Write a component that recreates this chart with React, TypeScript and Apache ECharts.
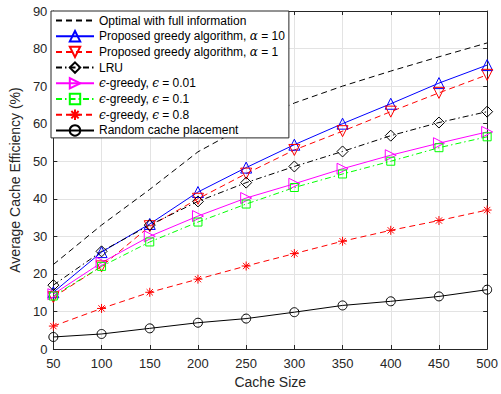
import React, { useEffect, useRef } from "react";
import * as echarts from "echarts";

const cacheSizes = [50, 100, 150, 200, 250, 300, 350, 400, 450, 500];
const optimal = [22.5, 33, 42.5, 52.5, 59.5, 65.5, 70, 74, 77.8, 81.5];
const greedyA10 = [15.1, 25.8, 33.3, 41.8, 48.3, 54.4, 60, 65.3, 70.8, 75.6];
const greedyA1 = [13.8, 22, 32.7, 40, 46.7, 53, 58, 63.2, 68.2, 73];
const lru = [17, 26, 33, 39.3, 44.3, 48.6, 52.6, 56.8, 60.3, 63.2];
const eps001 = [14.6, 23, 30, 35.4, 40.2, 44, 48, 51.6, 54.8, 57.8];
const eps01 = [14.1, 22, 28.5, 33.8, 38.6, 43, 46.6, 50, 53.6, 56.5];
const eps08 = [6.1, 10.8, 15.1, 18.6, 22.1, 25.4, 28.7, 31.6, 34.2, 37];
const randomPlacement = [3.2, 4, 5.5, 7, 8.1, 9.8, 11.6, 12.7, 14, 15.8];

const xTicks = { min: 50, max: 500, interval: 50 };
const yTicks = { min: 0, max: 90, interval: 10 };

const seriesNames = [
  "Optimal with full information",
  "Proposed greedy algorithm, α = 10",
  "Proposed greedy algorithm, α = 1",
  "LRU",
  "ϵ-greedy, ϵ = 0.01",
  "ϵ-greedy, ϵ = 0.1",
  "ϵ-greedy, ϵ = 0.8",
  "Random cache placement",
];

const ASTERISK = "path://M5,0L5,10M0,5L10,5M1.5,1.5L8.5,8.5M1.5,8.5L8.5,1.5";

export default function App() {
  const ref = useRef<HTMLDivElement>(null);
  useEffect(() => {
    if (!ref.current) return;
    const chart = echarts.init(ref.current, null, { renderer: "svg" });
    const dash = [6, 4];
    const dashDot = [6, 3, 1.5, 3];
    const mk = (
      name: string,
      data: number[],
      color: string,
      lineType: any,
      symbol: string,
      symbolSize: number,
      rotate = 0
    ) => ({
      name,
      type: "line",
      data: cacheSizes.map((x, i) => [x, data[i]]),
      symbol,
      symbolSize,
      symbolRotate: rotate,
      showSymbol: symbol !== "none",
      lineStyle: { color, width: 1, type: lineType },
      itemStyle: {
        color: "transparent",
        borderColor: symbol === "none" ? "transparent" : color,
        borderWidth: symbol === "none" ? 0 : 1,
      },
      color,
      emphasis: { disabled: true },
    });
    const series = [
      mk(seriesNames[0], optimal, "#000000", dash, "none", 0),
      mk(seriesNames[1], greedyA10, "#0000ff", "solid", "triangle", 11),
      mk(seriesNames[2], greedyA1, "#ff0000", dash, "triangle", 11, 180),
      mk(seriesNames[3], lru, "#000000", dashDot, "diamond", 11),
      mk(seriesNames[4], eps001, "#ff00ff", "solid", "triangle", 11, -90),
      mk(seriesNames[5], eps01, "#00ff00", dashDot, "rect", 8),
      mk(seriesNames[6], eps08, "#ff0000", dash, ASTERISK, 9),
      mk(seriesNames[7], randomPlacement, "#000000", "solid", "circle", 9),
    ];
    const axisColor = "#262626";
    const font = "Liberation Sans, Arial, sans-serif";
    chart.setOption({
      animation: false,
      textStyle: { fontFamily: font, color: axisColor },
      grid: { left: 50, right: 11, top: 11, bottom: 44, containLabel: false },
      legend: {
        orient: "vertical",
        left: 51,
        top: 11,
        backgroundColor: "#ffffff",
        borderColor: axisColor,
        borderWidth: 1,
        borderRadius: 0,
        padding: [3, 4, 1, 4],
        itemWidth: 38,
        itemHeight: 13,
        itemGap: 2.7,
        data: seriesNames,
        textStyle: {
          fontFamily: font,
          fontSize: 12,
          color: "#000000",
          lineHeight: 13,
          rich: {
            g: {
              fontFamily: "DejaVu Serif, serif",
              fontStyle: "italic",
              fontSize: 12,
              color: "#000000",
            },
          },
        },
        formatter: (name: string) => name.replace(/([αϵ])/g, "{g|$1}"),
      },
      xAxis: [
        {
          type: "value",
          ...xTicks,
          name: "Cache Size",
          nameLocation: "middle",
          nameGap: 26,
          nameTextStyle: { fontSize: 14, color: axisColor },
          axisLine: { show: true, lineStyle: { color: axisColor, width: 1 } },
          axisTick: { show: true, inside: true, length: 4, lineStyle: { color: axisColor } },
          axisLabel: { fontSize: 13, color: axisColor, margin: 8 },
          splitLine: { show: true, lineStyle: { color: "#e3e3e3", width: 1 } },
        },
        {
          type: "value",
          ...xTicks,
          position: "top",
          axisLine: { show: true, onZero: false, lineStyle: { color: axisColor, width: 1 } },
          axisTick: { show: true, inside: true, length: 4, lineStyle: { color: axisColor } },
          axisLabel: { show: false },
          splitLine: { show: false },
        },
      ],
      yAxis: [
        {
          type: "value",
          ...yTicks,
          name: "Average Cache Efficiency (%)",
          nameLocation: "middle",
          nameGap: 25,
          nameTextStyle: { fontSize: 14, color: axisColor },
          axisLine: { show: true, lineStyle: { color: axisColor, width: 1 } },
          axisTick: { show: true, inside: true, length: 4, lineStyle: { color: axisColor } },
          axisLabel: { fontSize: 13, color: axisColor, margin: 6 },
          splitLine: { show: true, lineStyle: { color: "#e3e3e3", width: 1 } },
        },
        {
          type: "value",
          ...yTicks,
          position: "right",
          axisLine: { show: true, onZero: false, lineStyle: { color: axisColor, width: 1 } },
          axisTick: { show: true, inside: true, length: 4, lineStyle: { color: axisColor } },
          axisLabel: { show: false },
          splitLine: { show: false },
        },
      ],
      series,
    });
    return () => chart.dispose();
  }, []);
  return (
    <div
      ref={ref}
      style={{ position: "absolute", left: 0, top: 0, width: 501, height: 394, background: "#fff" }}
    />
  );
}
